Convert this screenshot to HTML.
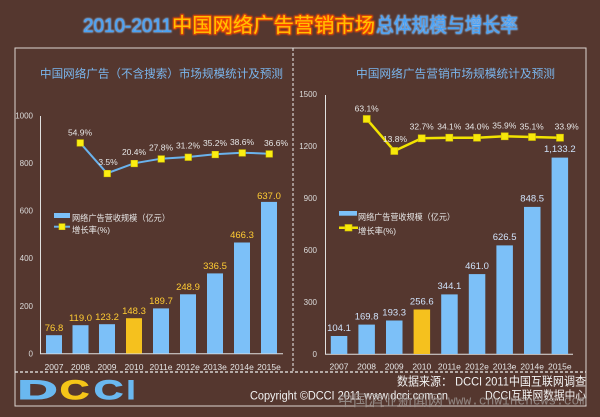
<!DOCTYPE html>
<html><head><meta charset="utf-8">
<style>
html,body{margin:0;padding:0;background:#55372f;}
#wrap{position:relative;width:600px;height:417px;overflow:hidden;background:#55372f;font-family:"Liberation Sans","Noto Sans CJK SC",sans-serif;}
svg{position:absolute;left:0;top:0;}
</style></head><body>
<div id="wrap">
<svg width="600" height="417" viewBox="0 0 600 417" xmlns="http://www.w3.org/2000/svg" font-family="Liberation Sans, Noto Sans CJK SC, sans-serif">
  <defs>
    <filter id="gb" x="-10%" y="-30%" width="120%" height="160%">
      <feMorphology in="SourceAlpha" operator="dilate" radius="0.7" result="d"/>
      <feGaussianBlur in="d" stdDeviation="0.8" result="b"/>
      <feFlood flood-color="#8cc6ff" flood-opacity="0.9"/>
      <feComposite in2="b" operator="in" result="g"/>
      <feMerge><feMergeNode in="g"/><feMergeNode in="SourceGraphic"/></feMerge>
    </filter>
    <filter id="go" x="-10%" y="-30%" width="120%" height="160%">
      <feMorphology in="SourceAlpha" operator="dilate" radius="0.8" result="d"/>
      <feGaussianBlur in="d" stdDeviation="0.9" result="b"/>
      <feFlood flood-color="#ff4a00"/>
      <feComposite in2="b" operator="in" result="g"/>
      <feMerge><feMergeNode in="g"/><feMergeNode in="SourceGraphic"/></feMerge>
    </filter>
  </defs>

  <!-- title -->
  <text x="83" y="32" font-size="19" fill="#4aa2f6" filter="url(#gb)" textLength="89" lengthAdjust="spacingAndGlyphs">2010-2011</text>
  <text x="172" y="32" font-size="20" fill="#ffc000" filter="url(#go)" textLength="203" lengthAdjust="spacingAndGlyphs">中国网络广告营销市场</text>
  <text x="376" y="32" font-size="20" fill="#4aa2f6" filter="url(#gb)" textLength="142" lengthAdjust="spacingAndGlyphs">总体规模与增长率</text>

  <!-- frame -->
  <rect x="15" y="48" width="571" height="358" fill="none" stroke="#ddd5d0" stroke-width="1"/>
  <line x1="293" y1="48" x2="293" y2="372" stroke="#eeeeee" stroke-width="1" stroke-dasharray="3,2"/>
  <line x1="15" y1="372" x2="586" y2="372" stroke="#eeeeee" stroke-width="1.2" stroke-dasharray="3,2"/>

  <!-- subtitles -->
  <text x="40" y="77.5" font-size="11.5" fill="#7ab6ee" textLength="243" lengthAdjust="spacingAndGlyphs">中国网络广告（不含搜索）市场规模统计及预测</text>
  <text x="356" y="77.5" font-size="11.5" fill="#7ab6ee" textLength="199" lengthAdjust="spacingAndGlyphs">中国网络广告营销市场规模统计及预测</text>

  <!-- ================= LEFT CHART ================= -->
  <g font-size="8" fill="#dcdcdc" text-anchor="end">
    <text x="33" y="118.5">1000</text>
    <text x="33" y="166">800</text>
    <text x="33" y="213.5">600</text>
    <text x="33" y="261">400</text>
    <text x="33" y="309">200</text>
    <text x="33" y="356.5">0</text>
  </g>
  <line x1="40.5" y1="116" x2="40.5" y2="354" stroke="#e0e0e0" stroke-width="1"/>
  <line x1="40" y1="353.8" x2="283" y2="353.8" stroke="#e0e0e0" stroke-width="1"/>

  <g fill="#7cc0f8">
    <rect x="46" y="335.2" width="16" height="18.3"/>
    <rect x="72.5" y="325.2" width="16" height="28.3"/>
    <rect x="99" y="324.2" width="16" height="29.3"/>
    <rect x="126" y="318.2" width="16" height="35.3" fill="#f5c11e"/>
    <rect x="153" y="308.4" width="16" height="45.1"/>
    <rect x="180" y="294.3" width="16" height="59.2"/>
    <rect x="207" y="273.4" width="16" height="80.1"/>
    <rect x="234" y="242.5" width="16" height="111"/>
    <rect x="261" y="201.9" width="16" height="151.6"/>
  </g>
  <g font-size="9.5" fill="#ffcc33" text-anchor="middle">
    <text x="54" y="331">76.8</text>
    <text x="80.5" y="321">119.0</text>
    <text x="107" y="320">123.2</text>
    <text x="134" y="314">148.3</text>
    <text x="161" y="304">189.7</text>
    <text x="188" y="290">248.9</text>
    <text x="215" y="269">336.5</text>
    <text x="242" y="238">466.3</text>
    <text x="269" y="199">637.0</text>
  </g>
  <g font-size="8.5" fill="#e4e4e4" text-anchor="middle">
    <text x="54" y="370">2007</text>
    <text x="80.5" y="370">2008</text>
    <text x="107" y="370">2009</text>
    <text x="134" y="370">2010</text>
    <text x="161" y="370">2011e</text>
    <text x="188" y="370">2012e</text>
    <text x="215" y="370">2013e</text>
    <text x="242" y="370">2014e</text>
    <text x="269" y="370">2015e</text>
  </g>
  <polyline points="80,142.7 107,173.3 134,163.3 161,158.7 188,157 215,154.3 242,152.7 269,153.7" fill="none" stroke="#6ab2ec" stroke-width="2"/>
  <g fill="#fbee12" stroke="#d9c800" stroke-width="0.6">
    <rect x="77" y="139.7" width="6.5" height="6.5"/>
    <rect x="104" y="170.3" width="6.5" height="6.5"/>
    <rect x="131" y="160.3" width="6.5" height="6.5"/>
    <rect x="158" y="155.7" width="6.5" height="6.5"/>
    <rect x="185" y="154" width="6.5" height="6.5"/>
    <rect x="212" y="151.3" width="6.5" height="6.5"/>
    <rect x="239" y="149.7" width="6.5" height="6.5"/>
    <rect x="266" y="150.7" width="6.5" height="6.5"/>
  </g>
  <g font-size="8.5" fill="#e6e6e6" text-anchor="middle">
    <text x="80" y="135.5">54.9%</text>
    <text x="108" y="165">3.5%</text>
    <text x="134" y="155">20.4%</text>
    <text x="161" y="150.5">27.8%</text>
    <text x="188" y="148.3">31.2%</text>
    <text x="215" y="146">35.2%</text>
    <text x="242" y="145">38.6%</text>
    <text x="276" y="146">36.6%</text>
  </g>
  <!-- left legend -->
  <rect x="54" y="213" width="16" height="5" fill="#7cc0f8"/>
  <text x="72" y="221" font-size="8.5" fill="#e8e8e8" textLength="98" lengthAdjust="spacingAndGlyphs">网络广告营收规模（亿元）</text>
  <line x1="54" y1="226.7" x2="70" y2="226.7" stroke="#6ab2ec" stroke-width="2"/>
  <rect x="59" y="223.7" width="6" height="6" fill="#fbee12" stroke="#d9c800" stroke-width="0.6"/>
  <text x="72" y="233" font-size="8.5" fill="#e8e8e8" textLength="38" lengthAdjust="spacingAndGlyphs">增长率(%)</text>

  <!-- ================= RIGHT CHART ================= -->
  <g font-size="8" fill="#dcdcdc" text-anchor="end">
    <text x="317" y="97">1500</text>
    <text x="317" y="149">1200</text>
    <text x="317" y="201">900</text>
    <text x="317" y="253">600</text>
    <text x="317" y="305">300</text>
    <text x="317" y="357">0</text>
  </g>
  <line x1="325.5" y1="95" x2="325.5" y2="354.5" stroke="#e0e0e0" stroke-width="1"/>
  <line x1="325" y1="354.3" x2="573" y2="354.3" stroke="#e0e0e0" stroke-width="1"/>

  <g fill="#7cc0f8">
    <rect x="330.8" y="336" width="16.5" height="18"/>
    <rect x="358.4" y="324.6" width="16.5" height="29.4"/>
    <rect x="386" y="320.5" width="16.5" height="33.5"/>
    <rect x="413.6" y="309.5" width="16.5" height="44.5" fill="#f5c11e"/>
    <rect x="441.2" y="294.4" width="16.5" height="59.6"/>
    <rect x="468.8" y="274.1" width="16.5" height="79.9"/>
    <rect x="496.4" y="245.4" width="16.5" height="108.6"/>
    <rect x="524" y="206.9" width="16.5" height="147.1"/>
    <rect x="551.6" y="157.6" width="16.5" height="196.4"/>
  </g>
  <g font-size="9.5" fill="#cfe2fa" text-anchor="middle">
    <text x="339" y="330.8">104.1</text>
    <text x="366.6" y="319.4">169.8</text>
    <text x="394.2" y="315.3">193.3</text>
    <text x="421.8" y="304.3">256.6</text>
    <text x="449.4" y="289.2">344.1</text>
    <text x="477" y="268.9">461.0</text>
    <text x="504.6" y="240.2">626.5</text>
    <text x="532.2" y="201.7">848.5</text>
    <text x="559.8" y="152">1,133.2</text>
  </g>
  <g font-size="8.5" fill="#e4e4e4" text-anchor="middle">
    <text x="339" y="369.7">2007</text>
    <text x="366.6" y="369.7">2008</text>
    <text x="394.2" y="369.7">2009</text>
    <text x="421.8" y="369.7">2010</text>
    <text x="449.4" y="369.7">2011e</text>
    <text x="477" y="369.7">2012e</text>
    <text x="504.6" y="369.7">2013e</text>
    <text x="532.2" y="369.7">2014e</text>
    <text x="559.8" y="369.7">2015e</text>
  </g>
  <polyline points="366.7,119 394.3,151 421.7,138.3 449.3,137.7 477,137.7 504.7,136.3 532,137 560,137.7" fill="none" stroke="#f2e300" stroke-width="2.5"/>
  <g fill="#f7e80a" stroke="#d6c400" stroke-width="0.6">
    <rect x="363.2" y="115.5" width="7" height="7"/>
    <rect x="390.8" y="147.5" width="7" height="7"/>
    <rect x="418.2" y="134.8" width="7" height="7"/>
    <rect x="445.8" y="134.2" width="7" height="7"/>
    <rect x="473.5" y="134.2" width="7" height="7"/>
    <rect x="501.2" y="132.8" width="7" height="7"/>
    <rect x="528.5" y="133.5" width="7" height="7"/>
    <rect x="556.5" y="134.2" width="7" height="7"/>
  </g>
  <g font-size="8.5" fill="#e6e6e6" text-anchor="middle">
    <text x="366.7" y="111.3">63.1%</text>
    <text x="395" y="142">13.8%</text>
    <text x="421.7" y="129.7">32.7%</text>
    <text x="449.3" y="129.7">34.1%</text>
    <text x="477" y="129.7">34.0%</text>
    <text x="504.3" y="128.7">35.9%</text>
    <text x="531.7" y="129.7">35.1%</text>
    <text x="566.7" y="129.7">33.9%</text>
  </g>
  <!-- right legend -->
  <rect x="339" y="211" width="18" height="4.7" fill="#7cc0f8"/>
  <text x="358" y="220" font-size="8.5" fill="#e8e8e8" textLength="97" lengthAdjust="spacingAndGlyphs">网络广告营收规模（亿元）</text>
  <line x1="339" y1="227.7" x2="358" y2="227.7" stroke="#f2e300" stroke-width="2.5"/>
  <rect x="345" y="224.5" width="7" height="6.5" fill="#f7e80a" stroke="#d6c400" stroke-width="0.6"/>
  <text x="358" y="234" font-size="8.5" fill="#e8e8e8" textLength="38" lengthAdjust="spacingAndGlyphs">增长率(%)</text>

  <!-- ================= FOOTER ================= -->
  <g font-weight="bold" stroke-width="1">
    <text x="17.5" y="399" font-size="27" fill="#6ab8f0" stroke="#6ab8f0" textLength="40" lengthAdjust="spacingAndGlyphs">D</text>
    <text x="60" y="399" font-size="27" fill="#f5c518" stroke="#f5c518" textLength="29" lengthAdjust="spacingAndGlyphs">C</text>
    <text x="94" y="399" font-size="27" fill="#6ab8f0" stroke="#6ab8f0" textLength="29" lengthAdjust="spacingAndGlyphs">C</text>
    <text x="127" y="399" font-size="27" fill="#6ab8f0" stroke="#6ab8f0" textLength="8" lengthAdjust="spacingAndGlyphs">I</text>
  </g>
  <text x="586" y="385.5" font-size="12" fill="#f2f2f2" text-anchor="end" textLength="189" lengthAdjust="spacingAndGlyphs">数据来源： DCCI 2011中国互联网调查</text>
  <text x="250" y="399.5" font-size="11.5" fill="#f2f2f2" textLength="198" lengthAdjust="spacingAndGlyphs">Copyright ©DCCI 2011 www.dcci.com.cn</text>
  <text x="586" y="399.5" font-size="12" fill="#f2f2f2" text-anchor="end" textLength="101" lengthAdjust="spacingAndGlyphs">DCCI互联网数据中心</text>
  <!-- watermark -->
  <text x="338" y="405.5" font-size="15" fill="#9c9490" fill-opacity="0.85" textLength="105" lengthAdjust="spacingAndGlyphs">中国酒业新闻网</text>
  <text x="448" y="404.5" font-size="13" font-family="Liberation Mono, monospace" fill="#9c9490" fill-opacity="0.85" textLength="139" lengthAdjust="spacingAndGlyphs">www.cnwinenews.com</text>
</svg>
</div>
</body></html>
